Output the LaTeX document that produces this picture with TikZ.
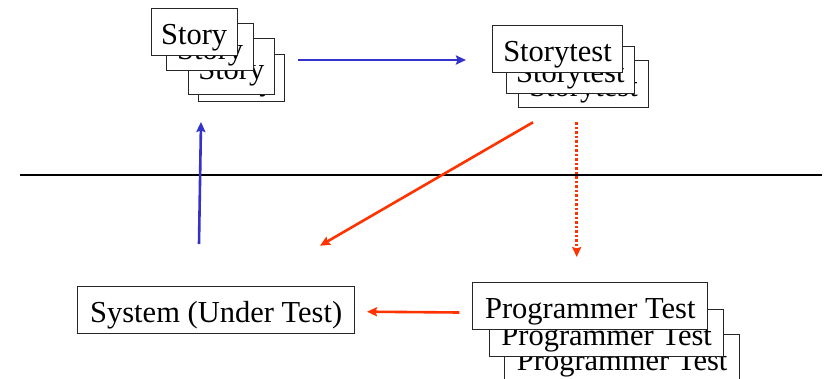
\documentclass[tikz,border=0pt]{standalone}
\usepackage{fontspec}
\setmainfont{Liberation Serif}
\usetikzlibrary{arrows.meta}
\definecolor{flowblue}{HTML}{3333CC}
\definecolor{flowred}{HTML}{FF3300}
\tikzset{
  card/.style={draw=black!85, fill=white, line width=1pt, inner xsep=0pt, inner ysep=0pt,
    minimum height=47pt, text height=36pt, text depth=11pt, anchor=north west,
    font=\fontsize{30.5}{36}\selectfont},
  tip/.style={-{Stealth[length=10pt,width=9pt,inset=1.5pt]}},
  blueflow/.style={tip, draw=flowblue, line width=2.6pt},
  redflow/.style={tip, draw=flowred, line width=2.6pt},
}
\begin{document}
\begin{tikzpicture}[x=1pt,y=-1pt]
\useasboundingbox (0,0) rectangle (825,378);
\clip (0,0) rectangle (825,378);

% Story cards, back to front
\node[card, minimum width=85.7pt] (s4) at (198.3,54.3) {Story};
\node[card, minimum width=86.3pt, minimum height=55.7pt] (s3) at (187.7,38.3) {Story};
\node[card, minimum width=87.3pt] (s2) at (166,22.7) {Story};
\node[card, minimum width=86pt] (s1) at (150.7,8.3) {Story};

% Storytest cards
\node[card, minimum width=129.4pt] (t3) at (518.3,60) {Storytest};
\node[card, minimum width=128.3pt] (t2) at (505.7,45.7) {Storytest};
\node[card, minimum width=129.4pt] (t1) at (492.3,25) {Storytest};

% Programmer Test cards
\node[card, minimum width=234.7pt] (p3) at (504.3,334) {Programmer Test};
\node[card, minimum width=234.3pt] (p2) at (489,309.3) {Programmer Test};
\node[card, minimum width=235pt] (p1) at (472.3,282.3) {Programmer Test};

% System under test
\node[card, minimum width=276.7pt] (sys) at (77.3,285.7) {System (Under Test)};

% dividing line
\coordinate (lineL) at (20,175);
\coordinate (lineR) at (822,175);
\draw[line width=1.3pt] (lineL) -- (lineR);

% connector end points
\coordinate (storyOut) at (298,60);
\coordinate (testIn) at (466,60);
\coordinate (sysUp) at (199,244);
\coordinate (storyIn) at (201,122);
\coordinate (testDiag) at (533,122.3);
\coordinate (sysIn) at (320,245.7);
\coordinate (testDown) at (576.7,122.3);
\coordinate (progIn) at (576.7,257);
\coordinate (progOut) at (459.3,312.5);
\coordinate (sysRight) at (367,311.7);

% connectors
\draw[blueflow] (storyOut) -- (testIn);
\draw[blueflow] (sysUp) -- (storyIn);
\draw[redflow] (testDiag) -- (sysIn);
\draw[redflow, dash pattern=on 2.2pt off 2.3pt] (testDown) -- (progIn);
\draw[redflow] (progOut) -- (sysRight);
\end{tikzpicture}
\end{document}
